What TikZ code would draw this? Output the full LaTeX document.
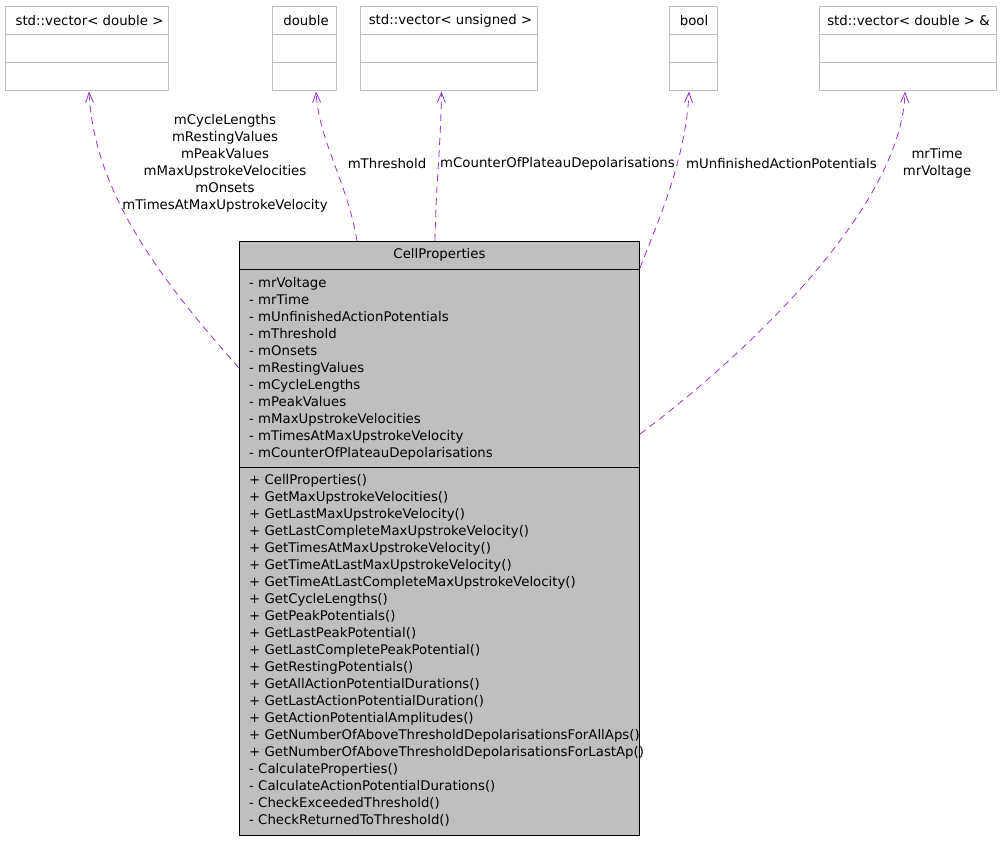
\documentclass[tikz,border=0pt]{standalone}
\usepackage{fontspec}
\setmainfont{DejaVu Sans}
\usetikzlibrary{arrows.meta, calc}

\definecolor{edgepurple}{HTML}{9A32CD}
\definecolor{boxgray}{HTML}{BFBFBF}

\begin{document}
\begin{tikzpicture}[x=1pt, y=-1pt,
    typebox/.style={draw=boxgray, line width=1pt, rectangle, inner sep=0pt,
                    minimum height=84pt},
    mainbox/.style={draw=black, line width=1pt, fill=boxgray, rectangle,
                    inner sep=0pt, minimum width=400pt, minimum height=594pt,
                    anchor=north west},
    uml/.style={font=\fontsize{13.3}{17}\selectfont, inner sep=0pt},
    member/.style={uml, anchor=base west},
    lbl/.style={uml, align=center},
    uses/.style={draw=edgepurple, line width=0.8pt, dash pattern=on 7pt off 5pt,
                 -{Straight Barb[length=10pt, width=8pt]}}
]
    \useasboundingbox (0,0) rectangle (1000,840);

    % --- Type boxes ---
    \node[typebox, minimum width=163pt] (vecd)   at (86.5, 49) {};
    \node[typebox, minimum width=64pt]  (dbl)    at (304, 49)  {};
    \node[typebox, minimum width=177pt] (vecu)   at (448.5, 49) {};
    \node[typebox, minimum width=48pt]  (boolt)  at (693, 49)  {};
    \node[typebox, minimum width=177pt] (vecref) at (907.5, 49) {};

    \node[uml] (vecdname)   at ($(vecd.north)+(3,14)$)   {std::vector< double >};
    \node[uml] (dblname)    at ($(dbl.north)+(2,14)$)    {double};
    \node[uml] (vecuname)   at ($(vecu.north)+(2,14)$)   {std::vector< unsigned >};
    \node[uml] (boolname)   at ($(boolt.north)+(1,14)$)  {bool};
    \node[uml] (vecrefname) at ($(vecref.north)+(1,14)$) {std::vector< double > \&};

    \foreach \b in {vecd, dbl, vecu, boolt, vecref} {
        \draw[boxgray, line width=1pt] ($(\b.north west)+(0,28)$) -- ($(\b.north east)+(0,28)$);
        \draw[boxgray, line width=1pt] ($(\b.north west)+(0,56)$) -- ($(\b.north east)+(0,56)$);
    }

    % --- CellProperties ---
    \node[mainbox] (cp) at (239, 241) {};
    \node[uml] (cptitle) at ($(cp.north)+(0,14)$) {CellProperties};
    \draw[line width=1pt] ($(cp.north west)+(0,28)$)  -- ($(cp.north east)+(0,28)$);
    \draw[line width=1pt] ($(cp.north west)+(0,226)$) -- ($(cp.north east)+(0,226)$);

    \foreach \t [count=\i] in {- mrVoltage, - mrTime, - mUnfinishedActionPotentials,
        - mThreshold, - mOnsets, - mRestingValues, - mCycleLengths, - mPeakValues,
        - mMaxUpstrokeVelocities, - mTimesAtMaxUpstrokeVelocity,
        - mCounterOfPlateauDepolarisations}
        \node[member] (attr\i) at ($(cp.north west)+(10,29+17*\i)$) {\t};

    \foreach \t [count=\i] in {+ CellProperties(), + GetMaxUpstrokeVelocities(),
        + GetLastMaxUpstrokeVelocity(), + GetLastCompleteMaxUpstrokeVelocity(),
        + GetTimesAtMaxUpstrokeVelocity(), + GetTimeAtLastMaxUpstrokeVelocity(),
        + GetTimeAtLastCompleteMaxUpstrokeVelocity(), + GetCycleLengths(),
        + GetPeakPotentials(), + GetLastPeakPotential(),
        + GetLastCompletePeakPotential(), + GetRestingPotentials(),
        + GetAllActionPotentialDurations(), + GetLastActionPotentialDuration(),
        + GetActionPotentialAmplitudes(),
        + GetNumberOfAboveThresholdDepolarisationsForAllAps(),
        + GetNumberOfAboveThresholdDepolarisationsForLastAp(),
        - CalculateProperties(), - CalculateActionPotentialDurations(),
        - CheckExceededThreshold(), - CheckReturnedToThreshold()}
        \node[member] (meth\i) at ($(cp.north west)+(10,226+17*\i)$) {\t};

    % --- Edge labels ---
    \node[lbl] (lblvecd) at (225, 163.5)
        {mCycleLengths\\mRestingValues\\mPeakValues\\mMaxUpstrokeVelocities\\mOnsets\\mTimesAtMaxUpstrokeVelocity};
    \node[lbl] (lbldbl) at (387, 164) {mThreshold};
    \node[lbl, anchor=west] (lblvecu) at (440, 164) {mCounterOfPlateauDepolarisations};
    \node[lbl, anchor=west] (lblbool) at (686, 164) {mUnfinishedActionPotentials};
    \node[lbl] (lblvecref) at (937, 163.5) {mrTime\\mrVoltage};

    % --- Connections ---
    \draw[uses] ($(cp.north west)+(0,127)$) .. controls +(-80,-90) and +(5,100) .. ($(vecd.south)+(2.5,0)$);
    \draw[uses] ($(cp.north west)+(118,0)$) .. controls +(-10,-60) and +(3,50) .. ($(dbl.south)+(12,0)$);
    \draw[uses] ($(cp.north west)+(196,0)$) .. controls +(1,-60) and +(-1,60) .. ($(vecu.south)+(-7,0)$);
    \draw[uses] ($(cp.north east)+(0,27)$) .. controls +(15,-40) and +(-3,70) .. ($(boolt.south)+(-4,0)$);
    \draw[uses] ($(cp.north east)+(0,193)$) .. controls +(120,-90) and +(-3,110) .. ($(vecref.south)+(-2.5,0)$);
\end{tikzpicture}
\end{document}
